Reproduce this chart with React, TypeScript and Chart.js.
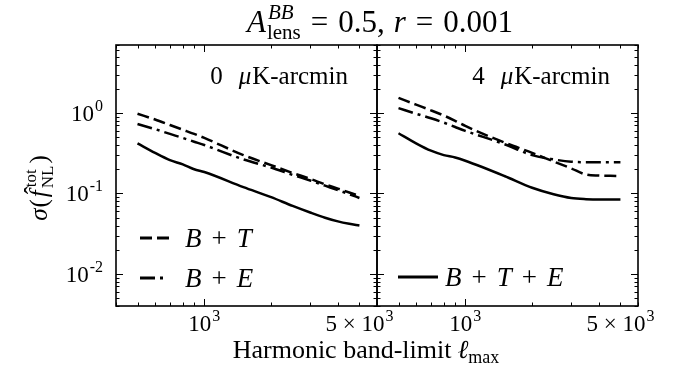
import React, { useEffect, useRef } from 'react';
import { Chart, registerables } from 'chart.js';

Chart.register(...registerables);

const FONT = "'Liberation Serif', 'Times New Roman', serif";

// Harmonic band-limit values (x)
const L_MAX = [500, 600, 700, 800, 900, 1000, 1500, 2000, 2500, 3000, 3500, 4000, 4500, 5000];

// 0 μK-arcmin panel
const BT_0 = [0.98, 0.83, 0.71, 0.62, 0.55, 0.49, 0.30, 0.225, 0.18, 0.152, 0.13, 0.115, 0.103, 0.093];
const BE_0 = [0.73, 0.63, 0.55, 0.49, 0.44, 0.40, 0.265, 0.21, 0.17, 0.145, 0.125, 0.11, 0.098, 0.088];
const BTE_0 = [0.42, 0.32, 0.26, 0.23, 0.20, 0.185, 0.12, 0.09, 0.07, 0.058, 0.05, 0.045, 0.042, 0.040];

// 4 μK-arcmin panel
const BT_4 = [1.54, 1.27, 1.08, 0.93, 0.80, 0.69, 0.43, 0.32, 0.25, 0.205, 0.172, 0.167, 0.166, 0.165];
const BE_4 = [1.15, 0.98, 0.86, 0.76, 0.67, 0.60, 0.41, 0.30, 0.265, 0.248, 0.245, 0.245, 0.245, 0.245];
const BTE_4 = [0.56, 0.42, 0.34, 0.30, 0.28, 0.255, 0.165, 0.118, 0.098, 0.088, 0.085, 0.084, 0.084, 0.084];

const PANEL_LABELS = ['0', '4'];

// Axis ranges and tick labels
const X_MIN = 400;
const X_MAX = 6000;
const Y_MIN = 0.004;
const Y_MAX = 7;
const X_TICKS = [1000, 5000];
const X_TICK_LABELS: [string, string, string][] = [['', '10', '3'], ['5 \u00d7 ', '10', '3']];
const Y_TICKS = [0.01, 0.1, 1];
const Y_TICK_LABELS: [string, string, string][] = [['', '10', '-2'], ['', '10', '-1'], ['', '10', '0']];

const DASH_BT = [12, 5];
const DASH_BE = [15, 5, 3, 5];
const LW = 2.5;

function drawPow(ctx: CanvasRenderingContext2D, x: number, y: number, lab: [string, string, string], align: 'center' | 'right') {
  const big = `23px ${FONT}`;
  const small = `16px ${FONT}`;
  ctx.font = big;
  const w1 = ctx.measureText(lab[0] + lab[1]).width;
  ctx.font = small;
  const w2 = ctx.measureText(lab[2]).width;
  const total = w1 + 1 + w2;
  const sx = align === 'center' ? x - total / 2 : x - total;
  ctx.textAlign = 'left';
  ctx.textBaseline = 'alphabetic';
  ctx.fillStyle = '#000';
  ctx.font = big;
  ctx.fillText(lab[0] + lab[1], sx, y);
  ctx.font = small;
  ctx.fillText(lab[2], sx + w1 + 1, y - 10);
}

function logTicks(min: number, max: number) {
  const out: { v: number; major: boolean }[] = [];
  for (let d = Math.floor(Math.log10(min)); d <= Math.ceil(Math.log10(max)); d++) {
    for (let m = 1; m <= 9; m++) {
      const v = m * Math.pow(10, d);
      if (v >= min * 0.9999 && v <= max * 1.0001) out.push({ v, major: m === 1 });
    }
  }
  return out;
}

const frameTicksPlugin = {
  id: 'frameTicks',
  afterDraw(chart: any, _args: any, opts: any) {
    const { ctx, chartArea: a, scales } = chart;
    const xs = scales.x;
    const ys = scales.y;
    ctx.save();
    ctx.strokeStyle = '#000';
    ctx.lineWidth = 1;
    ctx.beginPath();
    for (const t of logTicks(X_MIN, X_MAX)) {
      const px = Math.round(xs.getPixelForValue(t.v)) + 0.5;
      const len = t.major ? 7 : 3.5;
      ctx.moveTo(px, a.bottom);
      ctx.lineTo(px, a.bottom - len);
      ctx.moveTo(px, a.top);
      ctx.lineTo(px, a.top + len);
    }
    for (const t of logTicks(Y_MIN, Y_MAX)) {
      const py = Math.round(ys.getPixelForValue(t.v)) + 0.5;
      const len = t.major ? 7 : 3.5;
      ctx.moveTo(a.left, py);
      ctx.lineTo(a.left + len, py);
      ctx.moveTo(a.right, py);
      ctx.lineTo(a.right - len, py);
    }
    ctx.stroke();
    ctx.lineWidth = 1.6;
    ctx.strokeRect(a.left, a.top, a.right - a.left, a.bottom - a.top);

    X_TICKS.forEach((v, i) => {
      drawPow(ctx, xs.getPixelForValue(v), a.bottom + 25, X_TICK_LABELS[i], 'center');
    });
    if (opts && opts.showY) {
      Y_TICKS.forEach((v, i) => {
        drawPow(ctx, a.left - 13, ys.getPixelForValue(v) + 8, Y_TICK_LABELS[i], 'right');
      });
    }
    ctx.restore();
  },
};

function series(vals: number[]) {
  return L_MAX.map((x, i) => ({ x, y: vals[i] }));
}

function makeConfig(bt: number[], be: number[], bte: number[], showY: boolean, padding: any): any {
  const common = {
    borderColor: '#000',
    borderWidth: LW,
    pointRadius: 0,
    fill: false,
    cubicInterpolationMode: 'monotone',
    borderCapStyle: 'butt',
  };
  return {
    type: 'line',
    data: {
      datasets: [
        { ...common, label: 'B+T', data: series(bt), borderDash: DASH_BT },
        { ...common, label: 'B+E', data: series(be), borderDash: DASH_BE },
        { ...common, label: 'B+T+E', data: series(bte) },
      ],
    },
    options: {
      responsive: false,
      animation: false,
      events: [],
      layout: { padding },
      plugins: {
        legend: { display: false },
        tooltip: { enabled: false },
        frameTicks: { showY },
      },
      scales: {
        x: {
          type: 'logarithmic',
          min: X_MIN,
          max: X_MAX,
          grid: { display: false, drawTicks: false },
          border: { display: false },
          ticks: { display: false },
          afterFit: (s: any) => { s.height = 75; },
        },
        y: {
          type: 'logarithmic',
          min: Y_MIN,
          max: Y_MAX,
          display: showY,
          grid: { display: false, drawTicks: false },
          border: { display: false },
          ticks: { display: false },
          afterFit: (s: any) => { s.width = showY ? 116 : 0; },
        },
      },
    },
    plugins: [frameTicksPlugin],
  };
}

// ---- text layout helpers (SVG overlay) ----
const mctx = document.createElement('canvas').getContext('2d') as CanvasRenderingContext2D;
function tw(t: string, s: number, it = false) {
  mctx.font = `${it ? 'italic ' : ''}${s}px ${FONT}`;
  return mctx.measureText(t).width;
}
type Item = { t: string; s: number; i?: boolean; x: number; dy: number };
type Piece =
  | { t: string; s: number; i?: boolean; dy?: number; gap?: number }
  | { sup: string; sub: string; s: number; supI?: boolean; subI?: boolean; supDy: number; subDy: number; gap?: number };

function layout(pieces: Piece[]) {
  const items: Item[] = [];
  let x = 0;
  for (const p of pieces) {
    x += p.gap || 0;
    if ('sup' in p) {
      const w1 = tw(p.sup, p.s, p.supI);
      const w2 = tw(p.sub, p.s, p.subI);
      items.push({ t: p.sup, s: p.s, i: p.supI, x: x + 1, dy: p.supDy });
      items.push({ t: p.sub, s: p.s, i: p.subI, x, dy: p.subDy });
      x += Math.max(w1 + 1, w2);
    } else {
      items.push({ t: p.t, s: p.s, i: p.i, x, dy: p.dy || 0 });
      x += tw(p.t, p.s, p.i);
    }
  }
  return { items, width: x };
}

function TextRow({ pieces, x, y, anchor = 'start', extra = [] as Item[] }: { pieces: Piece[]; x: number; y: number; anchor?: string; extra?: Item[] }) {
  const { items, width } = layout(pieces);
  const x0 = anchor === 'middle' ? x - width / 2 : anchor === 'end' ? x - width : x;
  return (
    <g>
      {items.concat(extra).map((it, k) => (
        <text key={k} x={x0 + it.x} y={y + it.dy} fontSize={it.s} fontStyle={it.i ? 'italic' : 'normal'} fontFamily={FONT} fill="#000">
          {it.t}
        </text>
      ))}
    </g>
  );
}

function PanelLabel({ n, xEnd }: { n: string; xEnd: number }) {
  return (
    <TextRow
      x={xEnd}
      y={84}
      anchor="end"
      pieces={[
        { t: n, s: 25 },
        { t: '\u03bc', s: 25, i: true, gap: 16 },
        { t: 'K-arcmin', s: 25, gap: 1 },
      ]}
    />
  );
}

function LegendRow({ x, y, len, textX, dash, names }: { x: number; y: number; len: number; textX: number; dash?: number[]; names: string[] }) {
  const pieces: Piece[] = [];
  names.forEach((n, k) => {
    if (k > 0) pieces.push({ t: '+', s: 27, gap: 10 });
    pieces.push({ t: n, s: 27, i: true, gap: k > 0 ? 10 : 0 });
  });
  return (
    <g>
      <line x1={x} y1={y} x2={x + len} y2={y} stroke="#000" strokeWidth={LW + 0.3} strokeDasharray={dash ? dash.join(' ') : undefined} />
      <TextRow x={textX} y={y + 9} pieces={pieces} />
    </g>
  );
}

export default function App() {
  const leftRef = useRef<HTMLCanvasElement>(null);
  const rightRef = useRef<HTMLCanvasElement>(null);

  useEffect(() => {
    const c1 = new Chart(leftRef.current as HTMLCanvasElement, makeConfig(BT_0, BE_0, BTE_0, true, { left: 0, right: 43, top: 45, bottom: 0 }));
    const c2 = new Chart(rightRef.current as HTMLCanvasElement, makeConfig(BT_4, BE_4, BTE_4, false, { left: 10, right: 50, top: 45, bottom: 0 }));
    return () => {
      c1.destroy();
      c2.destroy();
    };
  }, []);

  const yl = layout([
    { t: '\u03c3', s: 25, i: true },
    { t: '(', s: 25, gap: 1 },
    { t: 'f', s: 25, i: true, gap: 2 },
  ]);
  const fItem = yl.items[2];
  const hat: Item = { t: '\u02c6', s: 25, x: fItem.x + 3, dy: -5 };

  return (
    <div style={{ position: 'absolute', left: 0, top: 0, width: 688, height: 381, background: '#fff', overflow: 'hidden' }}>
      <canvas ref={leftRef} width={420} height={381} style={{ position: 'absolute', left: 0, top: 0 }} />
      <canvas ref={rightRef} width={321} height={381} style={{ position: 'absolute', left: 367, top: 0 }} />
      <svg width={688} height={381} style={{ position: 'absolute', left: 0, top: 0, pointerEvents: 'none' }}>
        {/* title */}
        <TextRow
          x={380}
          y={32}
          anchor="middle"
          pieces={[
            { t: 'A', s: 31, i: true },
            { sup: 'BB', sub: 'lens', s: 21, supI: true, supDy: -13, subDy: 7, gap: 1 },
            { t: '=', s: 31, gap: 10 },
            { t: '0.5,', s: 31, gap: 10 },
            { t: 'r', s: 31, i: true, gap: 9 },
            { t: '=', s: 31, gap: 10 },
            { t: '0.001', s: 31, gap: 10 },
          ]}
        />
        {/* panel annotations */}
        <PanelLabel n={PANEL_LABELS[0]} xEnd={348} />
        <PanelLabel n={PANEL_LABELS[1]} xEnd={610} />
        {/* legends */}
        <LegendRow x={140} y={238} len={32} textX={185} dash={DASH_BT} names={['B', 'T']} />
        <LegendRow x={140} y={278} len={26} textX={185} dash={DASH_BE} names={['B', 'E']} />
        <LegendRow x={398} y={277} len={40} textX={445} names={['B', 'T', 'E']} />
        {/* x-axis label */}
        <TextRow
          x={366}
          y={358}
          anchor="middle"
          pieces={[
            { t: 'Harmonic band-limit', s: 26 },
            { t: '\u2113', s: 26, i: true, gap: 6 },
            { t: 'max', s: 18, dy: 5 },
          ]}
        />
        {/* y-axis label */}
        <g transform="translate(47,188) rotate(-90)">
          <TextRow x={0} y={0} anchor="middle" pieces={[
            { t: '\u03c3', s: 25, i: true },
            { t: '(', s: 25, gap: 1 },
            { t: 'f', s: 25, i: true, gap: 2 },
            { sup: 'tot', sub: 'NL', s: 17, supDy: -11, subDy: 6, gap: 2 },
            { t: ')', s: 25, gap: 2 },
          ]} extra={[hat]} />
        </g>
      </svg>
    </div>
  );
}
